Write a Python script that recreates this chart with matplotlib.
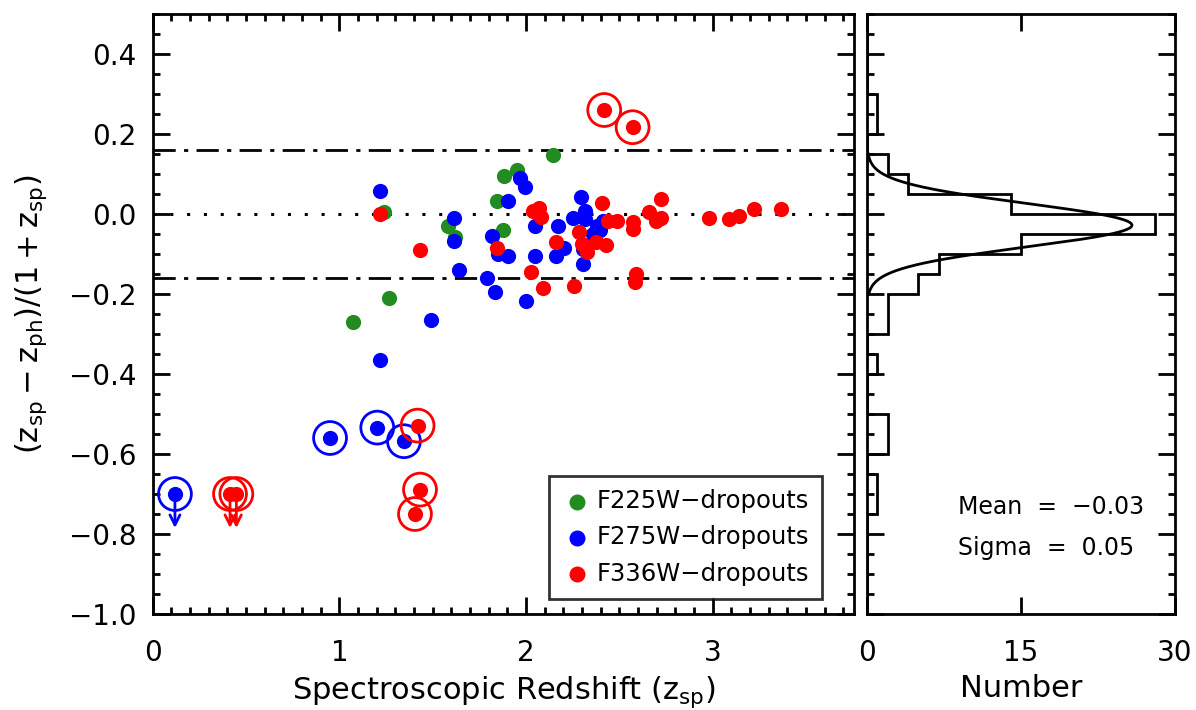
import matplotlib
matplotlib.use("Agg")
import matplotlib.pyplot as plt
import numpy as np
from matplotlib.ticker import MultipleLocator

plt.rcParams["font.family"] = ["DejaVu Sans"]
plt.rcParams["mathtext.fontset"] = "dejavusans"

GREEN = "#228B22"
BLUE = "#0000FF"
RED = "#FF0000"

# F225W-dropouts
green_z = [1.071, 1.267, 1.241, 1.580, 1.619, 1.842, 1.878, 1.882, 1.950, 2.146]
green_dz = [-0.271, -0.211, 0.006, -0.031, -0.057, 0.033, -0.039, 0.094, 0.110, 0.147]

# F275W-dropouts
blue_z = [1.217, 1.220, 1.489, 1.616, 1.614, 1.639, 1.789, 1.833, 1.816, 1.969,
          1.992, 1.903, 2.292, 1.848, 1.903, 2.001, 2.048, 2.048, 2.169, 2.205,
          2.160, 2.253, 2.315, 2.315, 2.378, 2.414, 2.360, 2.306, 2.306, 2.395]
blue_dz = [0.057, -0.365, -0.265, -0.011, -0.068, -0.141, -0.161, -0.196, -0.054, 0.089,
           0.067, 0.032, 0.043, -0.100, -0.104, -0.217, -0.029, -0.104, -0.031, -0.085,
           -0.106, -0.011, 0.008, -0.013, -0.029, -0.017, -0.050, -0.125, -0.088, -0.040]

# F336W-dropouts
red_z = [1.217, 1.432, 1.842, 2.026, 2.092, 2.257, 2.589, 2.583, 2.040, 2.070,
         2.080, 2.160, 2.285, 2.298, 2.325, 2.374, 2.428, 2.440, 2.490, 2.571,
         2.571, 2.658, 2.696, 2.724, 2.408, 2.724, 2.981, 3.088, 3.142, 3.224,
         3.365]
red_dz = [0.000, -0.090, -0.086, -0.145, -0.186, -0.179, -0.150, -0.171, 0.008, 0.014,
          -0.007, -0.070, -0.044, -0.075, -0.096, -0.071, -0.077, -0.017, -0.017, -0.021,
          -0.038, 0.006, -0.017, -0.010, 0.028, 0.038, -0.010, -0.013, -0.004, 0.013,
          0.013]

# catastrophic outliers (circled)
blue_out_z = [0.950, 1.203, 1.346]
blue_out_dz = [-0.560, -0.534, -0.568]
red_out_z = [2.419, 2.571, 1.419, 1.432, 1.405]
red_out_dz = [0.260, 0.217, -0.529, -0.689, -0.750]

# upper limits (circled, with arrows)
blue_lim_z = [0.119]
blue_lim_dz = [-0.70]
red_lim_z = [0.414, 0.448]
red_lim_dz = [-0.70, -0.70]

# histogram of the residuals
bin_edges = np.round(np.arange(-1.0, 0.5001, 0.05), 3)
hist_counts = [0, 0, 0, 0, 0, 1, 1, 0, 2, 2,
               0, 0, 1, 0, 2, 2, 5, 7, 15, 28,
               14, 4, 2, 0, 1, 1, 0, 0, 0, 0]
fit_amp = 25.8
fit_mean = -0.028
fit_sigma = 0.054
mean_txt = "Mean  =  \u22120.03"
sigma_txt = "Sigma  =  0.05"

ytick_vals = [-1.0, -0.8, -0.6, -0.4, -0.2, 0.0, 0.2, 0.4]

fig = plt.figure(figsize=(11.96, 7.10), dpi=100)
ax = fig.add_axes([0.1277, 0.1352, 0.5863, 0.8451])
axh = fig.add_axes([0.7250, 0.1352, 0.2575, 0.8451])

dot = 120
ring = 560

ax.axhline(0.0, color="black", lw=2.2, ls=(0, (1, 4.5)), zorder=1)
for lim in (0.16, -0.16):
    ax.axhline(lim, color="black", lw=2, ls=(0, (8, 3, 1.5, 3)), zorder=1)

ax.scatter(green_z, green_dz, s=dot, color=GREEN, lw=0, zorder=3, label="F225W\u2212dropouts")
ax.scatter(blue_z, blue_dz, s=dot, color=BLUE, lw=0, zorder=4, label="F275W\u2212dropouts")
ax.scatter(red_z, red_dz, s=dot, color=RED, lw=0, zorder=5, label="F336W\u2212dropouts")

for zs, dzs, c in ((blue_out_z, blue_out_dz, BLUE), (red_out_z, red_out_dz, RED),
                   (blue_lim_z, blue_lim_dz, BLUE), (red_lim_z, red_lim_dz, RED)):
    ax.scatter(zs, dzs, s=dot, color=c, lw=0, zorder=5)
    ax.scatter(zs, dzs, s=ring, facecolor="none", edgecolor=c, lw=2, zorder=5)

for zs, dzs, c in ((blue_lim_z, blue_lim_dz, BLUE), (red_lim_z, red_lim_dz, RED)):
    for z, dz in zip(zs, dzs):
        ax.annotate("", xy=(z, dz - 0.085), xytext=(z, dz),
                    arrowprops=dict(arrowstyle="->", color=c, lw=2,
                                    mutation_scale=18, shrinkA=0, shrinkB=0),
                    zorder=5)

ax.set_xlim(0, 3.757)
ax.set_ylim(-1.0, 0.5)
ax.xaxis.set_major_locator(MultipleLocator(1))
ax.xaxis.set_minor_locator(MultipleLocator(0.1))
ax.yaxis.set_minor_locator(MultipleLocator(0.05))
ax.set_yticks(ytick_vals)
ax.set_yticklabels([f"{v:.1f}".replace("-", "\u2212") for v in ytick_vals])
ax.set_xlabel(r"Spectroscopic Redshift ($\mathrm{z_{sp}}$)", fontsize=22, labelpad=5)
ax.set_ylabel(r"$\mathrm{(z_{sp}-z_{ph})/(1+z_{sp})}$", fontsize=22, labelpad=14)

leg = ax.legend(loc="lower right", bbox_to_anchor=(0.955, 0.025), fontsize=17.5,
                frameon=True, fancybox=False, edgecolor="black", borderpad=0.55,
                handletextpad=0.2, labelspacing=0.5, markerscale=1.05,
                handlelength=1.2, borderaxespad=0)
leg.get_frame().set_linewidth(2)

# histogram panel
axh.stairs(hist_counts, bin_edges, orientation="horizontal", color="black", lw=2, zorder=3)
yy = np.linspace(-0.2, 0.15, 300)
axh.plot(fit_amp * np.exp(-0.5 * ((yy - fit_mean) / fit_sigma) ** 2), yy, color="black", lw=2, zorder=3)
axh.set_xlim(0, 30)
axh.set_ylim(-1.0, 0.5)
axh.set_xticks([0, 15, 30])
axh.yaxis.set_major_locator(MultipleLocator(0.2))
axh.yaxis.set_minor_locator(MultipleLocator(0.05))
axh.tick_params(axis="y", labelleft=False)
axh.set_xlabel("Number", fontsize=22, labelpad=5)
axh.text(8.9, -0.733, mean_txt, fontsize=17, va="center", ha="left")
axh.text(8.9, -0.835, sigma_txt, fontsize=17, va="center", ha="left")

for a in (ax, axh):
    for sp in a.spines.values():
        sp.set_linewidth(2)
    a.tick_params(which="both", direction="in", top=True, right=True, width=2, labelsize=20)
    a.tick_params(axis="x", pad=18)
    a.tick_params(axis="y", pad=12)
    a.tick_params(which="major", length=12)
    a.tick_params(which="minor", length=5)

fig.savefig("out.png", dpi=100)
